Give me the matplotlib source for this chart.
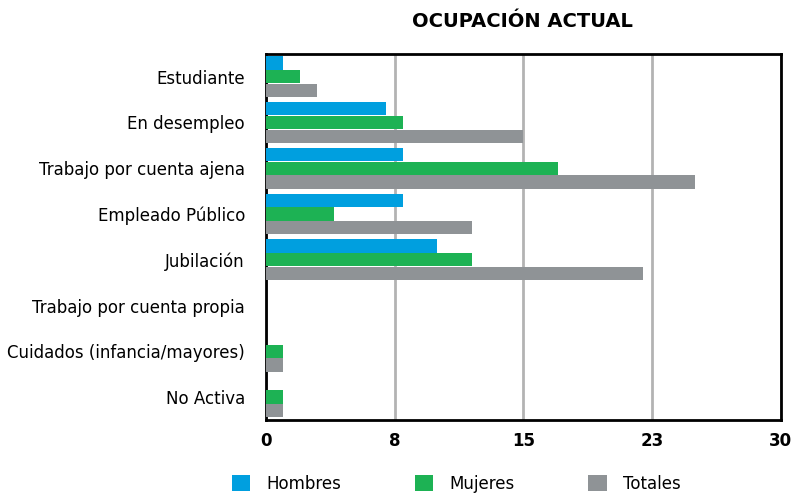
import numpy as np
import matplotlib.pyplot as plt

categorias = ['Estudiante', 'En desempleo', 'Trabajo por cuenta ajena', 'Empleado Público',
              'Jubilación', 'Trabajo por cuenta propia', 'Cuidados (infancia/mayores)', 'No Activa']
hombres = [1, 7, 8, 8, 10, 0, 0, 0]
mujeres = [2, 8, 17, 4, 12, 0, 1, 1]
totales = [3, 15, 25, 12, 22, 0, 1, 1]
xticks = [0, 7.5, 15, 22.5, 30]
xtick_labels = ['0', '8', '15', '23', '30']

fig = plt.figure(figsize=(7.91, 4.94), dpi=100)
ax = fig.add_axes([0.336, 0.150, 0.651, 0.741])

y = np.arange(len(categorias))
h = 0.29
ax.barh(y - h - 0.01, hombres, height=h, color='#009fdf', label='Hombres', zorder=3)
ax.barh(y, mujeres, height=h, color='#1db254', label='Mujeres', zorder=3)
ax.barh(y + h + 0.01, totales, height=h, color='#8f9396', label='Totales', zorder=3)

ax.set_ylim(len(categorias) - 0.5, -0.5)
ax.set_xlim(0, 30)
ax.set_yticks(y)
ax.set_yticklabels(categorias, fontsize=12)
ax.set_xticks(xticks)
ax.set_xticklabels(xtick_labels, fontsize=12, fontweight='bold')
ax.tick_params(length=0)
ax.tick_params(axis='y', pad=15)
ax.tick_params(axis='x', pad=9)
ax.xaxis.grid(True, color='#b3b3b3', linewidth=2, zorder=0)
for s in ax.spines.values():
    s.set_linewidth(2)
    s.set_color('black')

fig.text(0.661, 0.957, 'OCUPACIÓN ACTUAL', ha='center', va='center', fontsize=14, fontweight='bold')
fig.legend(loc='center', bbox_to_anchor=(0.577, 0.02), ncol=3, frameon=False, fontsize=12,
           handlelength=1.1, handleheight=1.1, columnspacing=4.4, handletextpad=1.0)

fig.savefig('out.png', dpi=100)
